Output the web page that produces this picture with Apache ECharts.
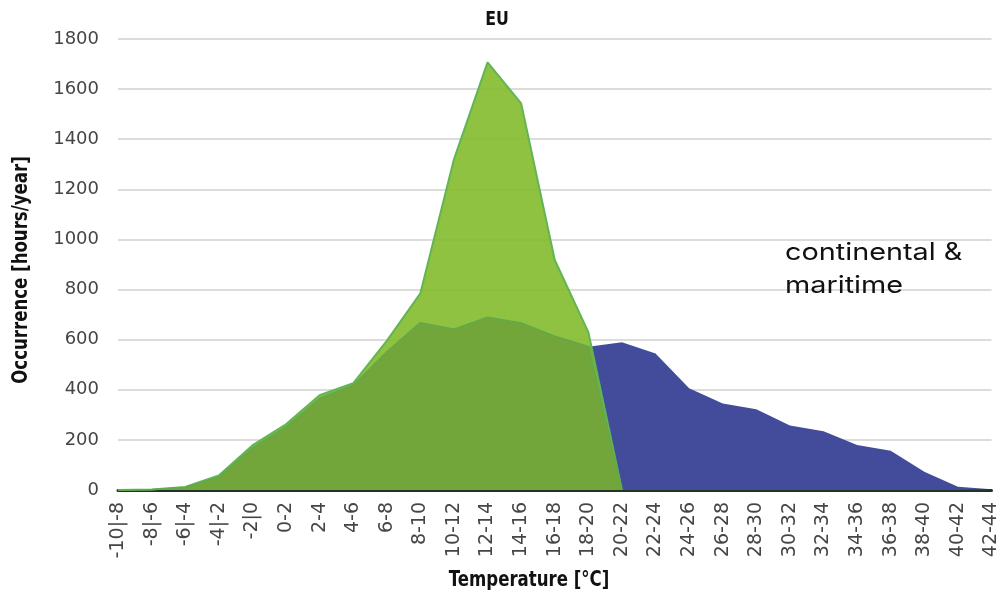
<!DOCTYPE html>
<html>
<head>
<meta charset="utf-8">
<script src="https://cdn.jsdelivr.net/npm/echarts@6/dist/echarts.min.js"></script>
<style>
  html, body { margin: 0; padding: 0; background: #ffffff; }
  #chart { width: 1001px; height: 597px; }
</style>
</head>
<body>
<div id="chart"></div>
<script>
// Temperature bins (°C)
const categories = [
  '-10|-8', '-8|-6', '-6|-4', '-4|-2', '-2|0', '0-2', '2-4', '4-6', '6-8',
  '8-10', '10-12', '12-14', '14-16', '16-18', '18-20', '20-22', '22-24',
  '24-26', '26-28', '28-30', '30-32', '32-34', '34-36', '36-38', '38-40',
  '40-42', '42-44'
];

// Occurrence in hours per year for each bin
const blueSeries = [
  null, null, null, null, null, null, null, null, null, null, null, null, null,
  null, 572, 590, 545, 406, 345, 322, 257, 234, 180, 157, 73, 13, 3
];
const lightGreenSeries = [
  0, 2, 12, 58, 178, 262, 378, 426, 595, 785, 1320, 1707, 1543, 918, 630, 0,
  null, null, null, null, null, null, null, null, null, null, null
];
const darkGreenSeries = [
  0, 1, 10, 52, 168, 252, 366, 418, 552, 668, 642, 690, 667, 614, 573, 0,
  null, null, null, null, null, null, null, null, null, null, null
];

const yTicks = { min: 0, max: 1800, interval: 200 };

const captionFont = 'bold 21px "DejaVu Sans", sans-serif';
const tickFont = '"DejaVu Sans", sans-serif';

const chart = echarts.init(document.getElementById('chart'), null, { renderer: 'canvas' });

// Narrow bold captions: the title and the two axis titles
function caption(text, x, y, rotation, size) {
  return {
    type: 'text',
    x: x,
    y: y,
    rotation: rotation || 0,
    scaleX: 0.79,
    z: 10,
    style: {
      text: text,
      font: size ? 'bold ' + size + 'px "DejaVu Sans", sans-serif' : captionFont,
      fill: '#111111',
      textAlign: 'center',
      textVerticalAlign: 'middle',
      align: 'center',
      verticalAlign: 'middle'
    }
  };
}

chart.setOption({
  animation: false,
  backgroundColor: '#ffffff',
  grid: { left: 118, right: 8, top: 39, bottom: 107, containLabel: false },
  xAxis: {
    type: 'category',
    data: categories,
    boundaryGap: false,
    axisLine: { show: true, lineStyle: { color: '#1f3326', width: 3 } },
    axisTick: { show: false },
    axisLabel: {
      rotate: 90,
      interval: 0,
      margin: 12,
      fontFamily: tickFont,
      fontSize: 19,
      color: '#454545'
    },
    splitLine: { show: false }
  },
  yAxis: {
    type: 'value',
    min: yTicks.min,
    max: yTicks.max,
    interval: yTicks.interval,
    axisLine: { show: false },
    axisTick: { show: false },
    axisLabel: {
      margin: 19,
      fontFamily: tickFont,
      fontSize: 18,
      color: '#454545',
      formatter: function (v) { return String(v); }
    },
    splitLine: { show: true, lineStyle: { color: '#dcdcdc', width: 2 } }
  },
  series: [
    {
      name: 'maritime',
      type: 'line',
      data: blueSeries,
      symbol: 'none',
      z: 2,
      lineStyle: { width: 0, color: '#434c9b' },
      itemStyle: { color: '#434c9b' },
      areaStyle: { color: '#434c9b', opacity: 1 }
    },
    {
      name: 'continental',
      type: 'line',
      data: lightGreenSeries,
      symbol: 'none',
      z: 3,
      lineStyle: { width: 2, color: '#63b553' },
      itemStyle: { color: '#8dc13f' },
      areaStyle: { color: '#82bb2b', opacity: 0.9 }
    },
    {
      name: 'continental & maritime',
      type: 'line',
      data: darkGreenSeries,
      symbol: 'none',
      z: 4,
      lineStyle: { width: 1.5, color: '#62a94c' },
      itemStyle: { color: '#72a53a' },
      areaStyle: { color: '#72a53a', opacity: 1 }
    }
  ],
  graphic: [
    caption('EU', 497, 20, 0, 20),
    caption('Occurrence [hours/year]', 22, 270, Math.PI / 2),
    caption('Temperature [°C]', 529, 581),
    {
      type: 'text',
      x: 785,
      y: 236,
      scaleX: 1.2,
      z: 10,
      style: {
        text: 'continental &\nmaritime',
        font: '400 24px Inter, sans-serif',
        lineHeight: 33,
        fill: '#111111'
      }
    }
  ]
});
</script>
</body>
</html>
